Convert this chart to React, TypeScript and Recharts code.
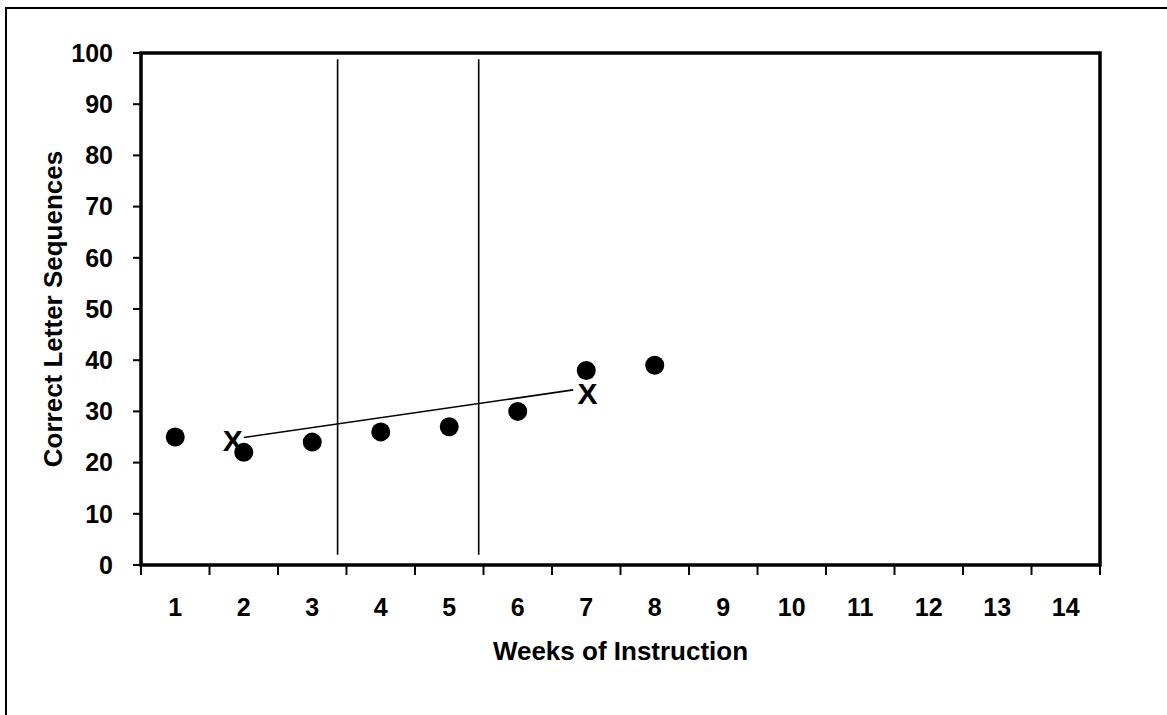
import React from "react";
import {
  ComposedChart,
  XAxis,
  YAxis,
  Scatter,
  ReferenceLine,
  ReferenceArea,
  Label,
} from "recharts";

// ---- data ----
const weeks = [1, 2, 3, 4, 5, 6, 7, 8];
const scores = [25, 22, 24, 26, 27, 30, 38, 39];
const weekLabels = [1, 2, 3, 4, 5, 6, 7, 8, 9, 10, 11, 12, 13, 14];
const weekBoundaries = [0.5, 1.5, 2.5, 3.5, 4.5, 5.5, 6.5, 7.5, 8.5, 9.5, 10.5, 11.5, 12.5, 13.5, 14.5];
const yTicks = [0, 10, 20, 30, 40, 50, 60, 70, 80, 90, 100];
const phaseLineWeeks = [3.37, 5.43];
const phaseLineRange = [2, 98.8];
const aimLineWeeks = [2.0, 6.81];
const aimLineValues = [24.9, 34.2];
const markerWeeks = [1.84, 7.02];
const markerValues = [24.4, 33.4];
const markerText = "X";
const xTitle = "Weeks of Instruction";
const yTitle = "Correct Letter Sequences";

const pointData = weeks.map((w, i) => ({ x: w, y: scores[i] }));
const markerData = markerWeeks.map((w, i) => ({ x: w, y: markerValues[i] }));

const FONT = "'Liberation Sans', Arial, Helvetica, sans-serif";
const tickStyle = { fontFamily: FONT, fontSize: 25, fontWeight: 700, fill: "#000" };

export default function App() {
  return (
    <div
      style={{
        position: "fixed",
        left: 0,
        top: 0,
        width: 1167,
        height: 715,
        background: "#fff",
        overflow: "hidden",
      }}
    >
      <div
        style={{
          position: "absolute",
          left: 5,
          top: 7,
          right: -10,
          bottom: -10,
          borderLeft: "2px solid #000",
          borderTop: "2px solid #000",
        }}
      />
      <div style={{ position: "absolute", left: 0, top: 0 }}>
        <ComposedChart
          width={1167}
          height={715}
          margin={{ top: 53, right: 67, bottom: 50, left: 0 }}
        >
          <XAxis
            xAxisId="bounds"
            dataKey="x"
            type="number"
            domain={[0.5, 14.5]}
            ticks={weekBoundaries}
            interval={0}
            height={1}
            axisLine={false}
            tickLine={{ stroke: "#000", strokeWidth: 2 }}
            tickSize={10}
            tick={() => <g />}
          />
          <XAxis
            xAxisId="labels"
            dataKey="x"
            type="number"
            domain={[0.5, 14.5]}
            ticks={weekLabels}
            interval={0}
            height={99}
            axisLine={false}
            tickLine={false}
            tickSize={0}
            tickMargin={32}
            tick={tickStyle}
          >
            <Label
              content={(props: any) => {
                const vb = props.viewBox || {};
                return (
                  <text
                    x={vb.x + vb.width / 2}
                    y={vb.y + 94}
                    textAnchor="middle"
                    style={{ fontFamily: FONT, fontSize: 26, fontWeight: 700 }}
                    fill="#000"
                  >
                    {xTitle}
                  </text>
                );
              }}
            />
          </XAxis>
          <YAxis
            type="number"
            domain={[0, 100]}
            ticks={yTicks}
            interval={0}
            width={141}
            axisLine={false}
            tickLine={{ stroke: "#000", strokeWidth: 2 }}
            tickSize={8}
            tickMargin={20}
            tick={tickStyle}
          >
            <Label
              content={(props: any) => {
                const vb = props.viewBox || {};
                const cx = vb.x + 53;
                const cy = vb.y + vb.height / 2;
                return (
                  <text
                    x={cx}
                    y={cy}
                    textAnchor="middle"
                    dominantBaseline="central"
                    transform={`rotate(-90, ${cx}, ${cy})`}
                    style={{ fontFamily: FONT, fontSize: 26, fontWeight: 700 }}
                    fill="#000"
                  >
                    {yTitle}
                  </text>
                );
              }}
            />
          </YAxis>
          <ReferenceArea
            xAxisId="bounds"
            x1={0.5}
            x2={14.5}
            y1={0}
            y2={100}
            fill="none"
            fillOpacity={0}
            stroke="#000"
            strokeWidth={3.5}
            strokeOpacity={1}
          />
          {phaseLineWeeks.map((w) => (
            <ReferenceLine
              key={w}
              xAxisId="bounds"
              segment={[
                { x: w, y: phaseLineRange[0] },
                { x: w, y: phaseLineRange[1] },
              ]}
              stroke="#000"
              strokeWidth={1.6}
            />
          ))}
          <ReferenceLine
            xAxisId="bounds"
            segment={[
              { x: aimLineWeeks[0], y: aimLineValues[0] },
              { x: aimLineWeeks[1], y: aimLineValues[1] },
            ]}
            stroke="#000"
            strokeWidth={1.6}
          />
          <Scatter
            xAxisId="labels"
            data={pointData}
            dataKey="y"
            isAnimationActive={false}
            shape={(p: any) => <circle cx={p.cx} cy={p.cy} r={9.5} fill="#000" />}
          />
          <Scatter
            xAxisId="bounds"
            data={markerData}
            dataKey="y"
            isAnimationActive={false}
            shape={(p: any) => (
              <text
                x={p.cx}
                y={p.cy}
                textAnchor="middle"
                dominantBaseline="central"
                style={{ fontFamily: FONT, fontSize: 30, fontWeight: 700 }}
                fill="#000"
              >
                {markerText}
              </text>
            )}
          />
        </ComposedChart>
      </div>
    </div>
  );
}
